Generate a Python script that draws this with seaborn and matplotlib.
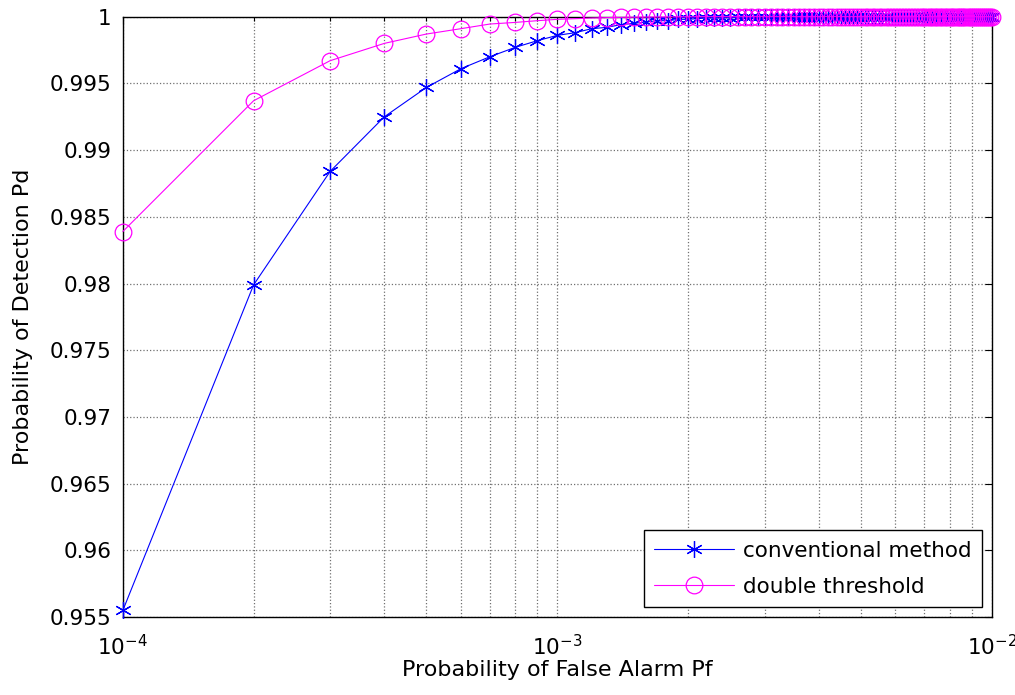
import matplotlib
matplotlib.use('Agg')
import matplotlib.pyplot as plt
import seaborn as sns
from matplotlib.ticker import LogLocator, NullFormatter

# false alarm probability (1e-4 ... 1e-2, step 1e-4)
pf = [0.0001, 0.0002, 0.0003, 0.0004, 0.0005, 0.0006, 0.0007, 0.0008, 0.0009, 0.0010,
      0.0011, 0.0012, 0.0013, 0.0014, 0.0015, 0.0016, 0.0017, 0.0018, 0.0019, 0.0020,
      0.0021, 0.0022, 0.0023, 0.0024, 0.0025, 0.0026, 0.0027, 0.0028, 0.0029, 0.0030,
      0.0031, 0.0032, 0.0033, 0.0034, 0.0035, 0.0036, 0.0037, 0.0038, 0.0039, 0.0040,
      0.0041, 0.0042, 0.0043, 0.0044, 0.0045, 0.0046, 0.0047, 0.0048, 0.0049, 0.0050,
      0.0051, 0.0052, 0.0053, 0.0054, 0.0055, 0.0056, 0.0057, 0.0058, 0.0059, 0.0060,
      0.0061, 0.0062, 0.0063, 0.0064, 0.0065, 0.0066, 0.0067, 0.0068, 0.0069, 0.0070,
      0.0071, 0.0072, 0.0073, 0.0074, 0.0075, 0.0076, 0.0077, 0.0078, 0.0079, 0.0080,
      0.0081, 0.0082, 0.0083, 0.0084, 0.0085, 0.0086, 0.0087, 0.0088, 0.0089, 0.0090,
      0.0091, 0.0092, 0.0093, 0.0094, 0.0095, 0.0096, 0.0097, 0.0098, 0.0099, 0.0100]

# conventional method
pd_conv = [0.9555, 0.9799, 0.9884, 0.9925, 0.9947, 0.9961, 0.9970, 0.9977, 0.9982, 0.9986,
           0.9988, 0.9991, 0.9992, 0.9994, 0.9995, 0.9996, 0.9997, 0.9997, 0.9998, 0.9998,
           0.99985, 0.9999, 0.9999, 0.9999, 0.99993, 0.99995, 0.99995, 0.99996, 0.99997, 0.99997,
           0.99998, 0.99998, 0.99998, 0.99999, 0.99999, 0.99999, 0.99999, 0.99999, 1.0, 1.0,
           1.0, 1.0, 1.0, 1.0, 1.0, 1.0, 1.0, 1.0, 1.0, 1.0,
           1.0, 1.0, 1.0, 1.0, 1.0, 1.0, 1.0, 1.0, 1.0, 1.0,
           1.0, 1.0, 1.0, 1.0, 1.0, 1.0, 1.0, 1.0, 1.0, 1.0,
           1.0, 1.0, 1.0, 1.0, 1.0, 1.0, 1.0, 1.0, 1.0, 1.0,
           1.0, 1.0, 1.0, 1.0, 1.0, 1.0, 1.0, 1.0, 1.0, 1.0,
           1.0, 1.0, 1.0, 1.0, 1.0, 1.0, 1.0, 1.0, 1.0, 1.0]

# double threshold
pd_double = [0.9839, 0.9937, 0.9967, 0.9980, 0.9987, 0.9991, 0.99945, 0.99957, 0.9997, 0.9998,
             0.99985, 0.9999, 0.99993, 0.99995, 0.99996, 0.99997, 0.99998, 0.99998, 0.99999, 0.99999,
             1.0, 1.0, 1.0, 1.0, 1.0, 1.0, 1.0, 1.0, 1.0, 1.0,
             1.0, 1.0, 1.0, 1.0, 1.0, 1.0, 1.0, 1.0, 1.0, 1.0,
             1.0, 1.0, 1.0, 1.0, 1.0, 1.0, 1.0, 1.0, 1.0, 1.0,
             1.0, 1.0, 1.0, 1.0, 1.0, 1.0, 1.0, 1.0, 1.0, 1.0,
             1.0, 1.0, 1.0, 1.0, 1.0, 1.0, 1.0, 1.0, 1.0, 1.0,
             1.0, 1.0, 1.0, 1.0, 1.0, 1.0, 1.0, 1.0, 1.0, 1.0,
             1.0, 1.0, 1.0, 1.0, 1.0, 1.0, 1.0, 1.0, 1.0, 1.0,
             1.0, 1.0, 1.0, 1.0, 1.0, 1.0, 1.0, 1.0, 1.0, 1.0]

y_ticks = [0.955, 0.96, 0.965, 0.97, 0.975, 0.98, 0.985, 0.99, 0.995, 1.0]
y_labels = ['0.955', '0.96', '0.965', '0.97', '0.975', '0.98', '0.985', '0.99', '0.995', '1']

sns.set_style('white')
plt.rcParams['font.family'] = ['DejaVu Sans']
plt.rcParams['mathtext.fontset'] = 'dejavusans'
plt.rcParams['text.color'] = 'black'
plt.rcParams['axes.labelcolor'] = 'black'
plt.rcParams['xtick.color'] = 'black'
plt.rcParams['ytick.color'] = 'black'

fig = plt.figure(figsize=(10.15, 6.95), dpi=100)
ax = fig.add_axes([0.121, 0.112, 0.856, 0.864])

sns.lineplot(x=pf, y=pd_conv, ax=ax, color='#0000ff', lw=0.8, marker=(6, 2, 0),
             markersize=12, markeredgewidth=0.9, markeredgecolor='#0000ff',
             label='conventional method', clip_on=False, zorder=3)
sns.lineplot(x=pf, y=pd_double, ax=ax, color='#ff00ff', lw=0.8, marker='o',
             markersize=12, markerfacecolor='none', markeredgecolor='#ff00ff',
             markeredgewidth=0.9, label='double threshold', clip_on=False, zorder=4)

ax.set_xscale('log')
ax.set_xlim(1e-4, 1e-2)
ax.set_ylim(0.955, 1.0)
ax.set_yticks(y_ticks)
ax.set_yticklabels(y_labels)
ax.xaxis.set_major_locator(LogLocator(base=10))
ax.xaxis.set_minor_locator(LogLocator(base=10, subs=range(2, 10)))
ax.xaxis.set_minor_formatter(NullFormatter())

ax.grid(True, which='major', color='#707070', linestyle=':', linewidth=0.9)
ax.grid(True, which='minor', axis='x', color='#707070', linestyle=':', linewidth=0.9)
ax.set_axisbelow(True)

ax.tick_params(axis='both', which='both', direction='in', top=True, right=True,
               labelsize=15.5, width=0.8, color='black', labelcolor='black')
ax.tick_params(which='major', length=5)
ax.tick_params(axis='y', which='major', pad=8)
ax.tick_params(axis='x', which='major', pad=12)
ax.tick_params(which='minor', length=3)
for s in ax.spines.values():
    s.set_color('black')
    s.set_linewidth(1.0)

ax.set_xlabel('Probability of False Alarm Pf', fontsize=16, labelpad=1)
ax.set_ylabel('Probability of Detection Pd', fontsize=16, labelpad=12)

leg = ax.legend(loc='lower right', fontsize=15.5, frameon=True, fancybox=False,
                edgecolor='black', framealpha=1, borderaxespad=0.45,
                handlelength=3.7, handletextpad=0.4, borderpad=0.5, labelspacing=0.75)
leg.get_frame().set_linewidth(1.0)

plt.savefig('out.png', dpi=100)
